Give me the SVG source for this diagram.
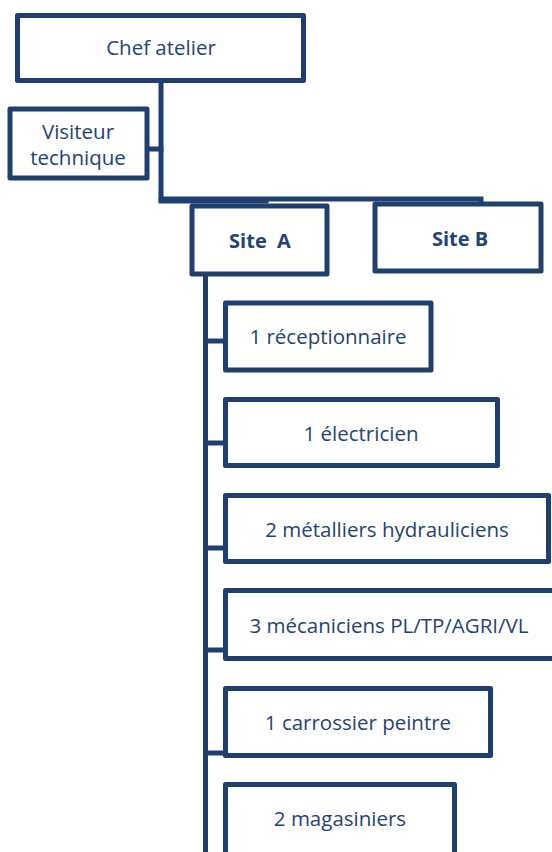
<svg xmlns="http://www.w3.org/2000/svg" width="552" height="852" viewBox="0 0 552 852">
  <style>
    .box { fill: #ffffff; stroke: #1f3f6e; stroke-width: 5; stroke-linejoin: round; }
    .line { fill: none; stroke: #1f3f6e; stroke-width: 5; stroke-linecap: square; }
    .lbl { font-family: "Open Sans", "Liberation Sans", sans-serif; font-size: 20.5px; fill: #22437a; text-anchor: middle; dominant-baseline: central; }
    .bold { font-weight: bold; font-size: 20px; }
  </style>
  <rect width="552" height="852" fill="#ffffff"/>

  <!-- connectors -->
  <g id="connectors">
    <polyline class="line" points="161,83 161,199 481,199 481,204"/>
    <line class="line" x1="161" y1="201" x2="266" y2="201"/>
    <line class="line" x1="151" y1="149" x2="161" y2="149"/>
    <line class="line" x1="205.5" y1="276" x2="205.5" y2="856"/>
    <line class="line" x1="205.5" y1="341" x2="223" y2="341"/>
    <line class="line" x1="205.5" y1="443" x2="223" y2="443"/>
    <line class="line" x1="205.5" y1="548" x2="223" y2="548"/>
    <line class="line" x1="205.5" y1="650" x2="223" y2="650"/>
    <line class="line" x1="205.5" y1="753" x2="223" y2="753"/>
  </g>

  <g id="chef">
    <rect class="box" x="17.5" y="15.5" width="286" height="65"/>
    <text class="lbl" x="161" y="47">Chef atelier</text>
  </g>

  <g id="visiteur">
    <rect class="box" x="10" y="109" width="137" height="69"/>
    <text class="lbl" x="78" y="131">Visiteur</text>
    <text class="lbl" x="78" y="157">technique</text>
  </g>

  <g id="siteA">
    <rect class="box" x="192" y="206" width="135" height="68"/>
    <text class="lbl bold" x="260" y="240">Site&#160; A</text>
  </g>

  <g id="siteB">
    <rect class="box" x="375" y="204" width="166" height="67"/>
    <text class="lbl bold" x="460" y="238">Site B</text>
  </g>

  <g id="receptionnaire">
    <rect class="box" x="225.5" y="303" width="205.5" height="67"/>
    <text class="lbl" x="328" y="336">1 réceptionnaire</text>
  </g>

  <g id="electricien">
    <rect class="box" x="225.5" y="399.5" width="272" height="66"/>
    <text class="lbl" x="361" y="433">1 électricien</text>
  </g>

  <g id="metalliers">
    <rect class="box" x="225.5" y="495.5" width="323" height="66"/>
    <text class="lbl" x="387" y="529">2 métalliers hydrauliciens</text>
  </g>

  <g id="mecaniciens">
    <rect class="box" x="225.5" y="590.5" width="340" height="68"/>
    <text class="lbl" x="389" y="625">3 mécaniciens PL/TP/AGRI/VL</text>
  </g>

  <g id="carrossier">
    <rect class="box" x="225.5" y="688.5" width="265" height="67"/>
    <text class="lbl" x="358" y="722">1 carrossier peintre</text>
  </g>

  <g id="magasiniers">
    <rect class="box" x="225.5" y="784.5" width="229" height="80"/>
    <text class="lbl" x="340" y="818">2 magasiniers</text>
  </g>
</svg>
